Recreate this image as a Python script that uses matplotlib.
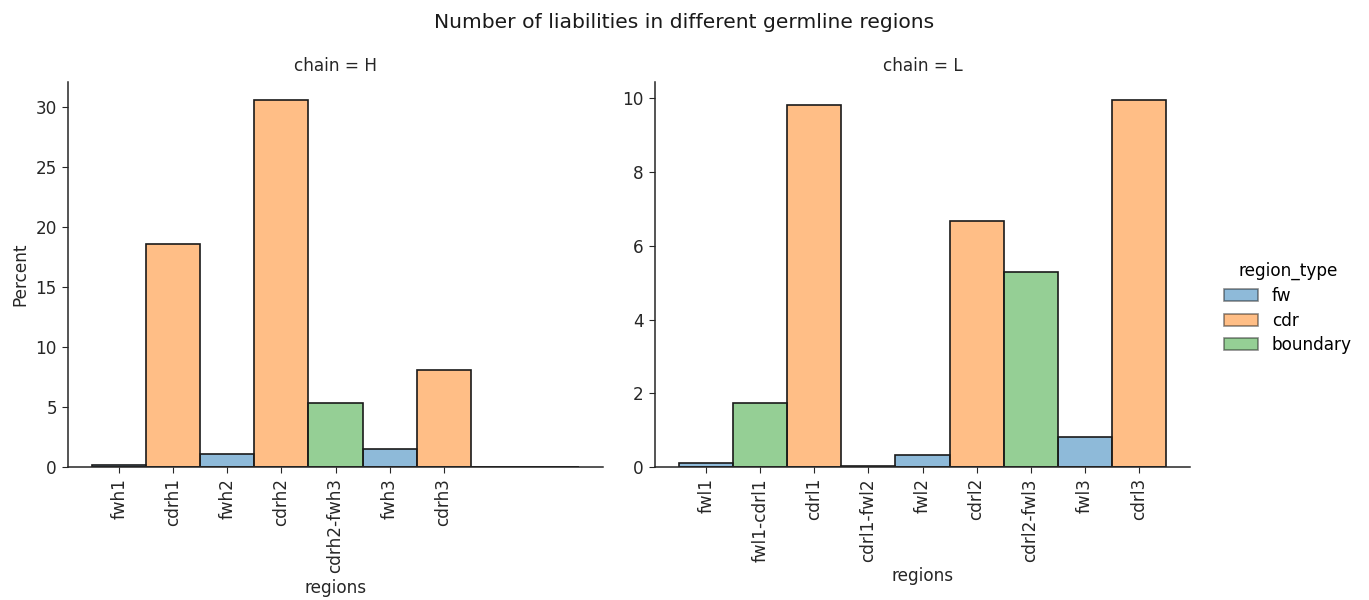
import matplotlib
matplotlib.use("Agg")
import matplotlib.pyplot as plt
from matplotlib.patches import Patch

# Percent of liabilities per germline region, split by chain
h_regions = ["fwh1", "cdrh1", "fwh2", "cdrh2", "cdrh2-fwh3", "fwh3", "cdrh3"]
h_types = ["fw", "cdr", "fw", "cdr", "boundary", "fw", "cdr"]
h_percent = [0.19, 18.6, 1.05, 30.53, 5.3, 1.49, 8.07]

l_regions = ["fwl1", "fwl1-cdrl1", "cdrl1", "cdrl1-fwl2", "fwl2", "cdrl2",
             "cdrl2-fwl3", "fwl3", "cdrl3"]
l_types = ["fw", "boundary", "cdr", "boundary", "fw", "cdr", "boundary", "fw", "cdr"]
l_percent = [0.12, 1.74, 9.83, 0.02, 0.33, 6.67, 5.29, 0.81, 9.95]

region_types = ["fw", "cdr", "boundary"]
type_colors = {"fw": "#1f77b4", "cdr": "#ff7f0e", "boundary": "#2ca02c"}

FS = 12.2
plt.rcParams["font.family"] = "DejaVu Sans"
ink = "#262626"

fig = plt.figure(figsize=(13.69, 6.0), dpi=100)
ax_h = fig.add_axes([68 / 1369, 1 - 467 / 600, 535 / 1369, 385 / 600])
ax_l = fig.add_axes([655 / 1369, 1 - 467 / 600, 535 / 1369, 385 / 600])

n_bins = max(len(h_regions), len(l_regions))


def draw_panel(ax, regions, types, values, title):
    for rt in region_types:
        heights = [0.0] * n_bins
        for i, (t, v) in enumerate(zip(types, values)):
            if t == rt:
                heights[i] = v
        ax.bar(range(n_bins), heights, width=1.0, color=type_colors[rt],
               alpha=0.5, edgecolor="none")
        ax.bar(range(n_bins), heights, width=1.0, fill=False,
               edgecolor="#1a1a1a", linewidth=1.2)
    ax.set_xlim(-0.5 - 0.45, n_bins - 0.5 + 0.45)
    ax.set_ylim(0, max(values) * 1.05)
    ax.set_xticks(range(len(regions)))
    ax.set_xticklabels(regions, rotation=90, fontsize=FS, color=ink)
    ax.tick_params(axis="y", labelsize=FS, colors=ink)
    ax.tick_params(axis="both", color=ink, length=4.5)
    for side in ("top", "right"):
        ax.spines[side].set_visible(False)
    for side in ("left", "bottom"):
        ax.spines[side].set_color(ink)
        ax.spines[side].set_linewidth(1.1)
    ax.set_xlabel("regions", fontsize=FS, color=ink)
    ax.set_title(title, fontsize=FS, color=ink, pad=8)


draw_panel(ax_h, h_regions, h_types, h_percent, "chain = H")
draw_panel(ax_l, l_regions, l_types, l_percent, "chain = L")
ax_h.set_ylabel("Percent", fontsize=FS, color=ink)
ax_h.set_yticks([0, 5, 10, 15, 20, 25, 30])
ax_l.set_yticks([0, 2, 4, 6, 8, 10])

handles = [Patch(facecolor=type_colors[rt], alpha=0.5, edgecolor="#1a1a1a",
                 linewidth=1.2, label=rt) for rt in region_types]
leg = fig.legend(handles=handles, title="region_type", loc="center left",
                 bbox_to_anchor=(1209 / 1369, 0.5 - 8 / 600), frameon=False,
                 fontsize=FS, title_fontsize=FS, labelspacing=0.4)
for h in leg.legend_handles:
    h.set_edgecolor("#1a1a1a")

fig.suptitle("Number of liabilities in different germline regions",
             fontsize=14.6, color="#1a1a1a", y=1 - 22 / 600, va="center")

fig.savefig("out.png", dpi=100)
